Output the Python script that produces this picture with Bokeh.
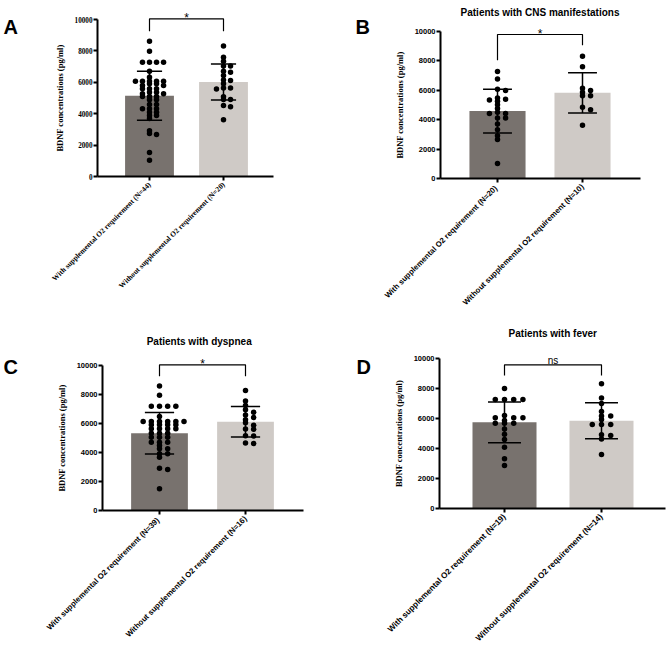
import numpy as np
from bokeh.plotting import figure
from bokeh.models import Range1d, FixedTicker, Label
from bokeh.layouts import row, column
from bokeh.embed import file_html
from bokeh.resources import INLINE

# ---------------- data ----------------
panel_letters = ["A", "B", "C", "D"]
panel_titles = ["", "Patients with CNS manifestations", "Patients with dyspnea", "Patients with fever"]
y_axis_label = "BDNF concentrations (pg/ml)"
y_ticks = [0, 2000, 4000, 6000, 8000, 10000]

labels_A = ["With supplemental O2 requirement (N=44)", "Without supplemental O2 requirement (N=20)"]
labels_B = ["With supplemental O2 requirement  (N=20)", "Without supplemental O2 requirement (N=10)"]
labels_C = ["With supplemental O2 requirement  (N=39)", "Without supplemental O2 requirement (N=16)"]
labels_D = ["With supplemental O2 requirement (N=19)", "Without supplemental O2 requirement (N=14)"]

mean_A = [5140, 6020]
sd_A = [1565, 1150]
mean_B = [4575, 5815]
sd_B = [1485, 1360]
mean_C = [5335, 6120]
sd_C = [1430, 1050]
mean_D = [5745, 5844]
sd_D = [1355, 1200]

with_A = [8620, 7980, 7280, 7280, 7280, 7280, 6700, 6325, 6070, 6070, 6070, 6070, 6070,
          5900, 5900, 5800, 5800, 5585, 5585, 5585, 5370, 5370, 5268, 5268, 5095, 5095,
          5095, 4885, 4885, 4586, 4586, 4310, 4310, 4310, 4096, 4096, 3885, 3885, 3700,
          2920, 2740, 2680, 1530, 1040]
without_A = [8320, 7600, 7340, 7040, 7040, 6700, 6640, 6430, 6150, 6110, 5900, 5580, 5640,
             5640, 5080, 4900, 4900, 4450, 4530, 3620]
with_B = [7260, 6760, 6060, 5970, 5240, 5380, 5330, 5470, 5010, 4750, 4420, 4420, 4490,
          4100, 4100, 3700, 3310, 2900, 2650, 1020]
without_B = [8300, 7580, 5970, 5850, 6120, 5620, 5620, 4830, 4670, 3610]
with_C = [8590, 7950, 7190, 7190, 7190, 7190, 6480, 6140, 6140, 6140, 6140, 6140, 6140,
          5910, 5910, 5910, 5910, 5634, 5634, 5634, 5634, 5331, 5331, 5331, 5055, 5055,
          5055, 4710, 4710, 4710, 4483, 4253, 4253, 3908, 3908, 3676, 2920, 2830, 1500]
without_C = [8270, 7560, 7240, 6950, 6780, 6580, 6420, 6260, 6050, 5880, 5620, 5600, 5150,
             5140, 4650, 4620]
with_D = [8000, 7267, 7267, 7267, 7267, 6200, 6044, 6044, 6044, 5867, 5689, 5689, 5689,
          5300, 4950, 4600, 4089, 3311, 2866]
without_D = [8310, 7360, 7000, 6160, 6470, 6160, 5930, 5600, 5600, 5600, 4870, 4910, 4640, 3600]

significance = ["*", "*", "*", "ns"]
bracket_top = [10045, 9775, 10048, 9580]
bracket_left_end = [9255, 8027, 9262, 8867]
bracket_right_end = [9255, 9048, 9262, 8867]

# ---------------- layout / styling (pixel placement of each panel) ----------------
BAR_COLORS = ["#78726e", "#cfcac6"]
SERIF = "Liberation Serif"
SANS = "Liberation Sans"

panels = [
    dict(title=panel_titles[0], labels=labels_A, mean=mean_A, sd=sd_A, groups=[with_A, without_A],
         fig=(0, 0, 334, 324), cats=(149, 223), zero=176, tenk=19, axis=(97, 273),
         letter=(3, 26), title_pos=None,
         tick_font=SERIF, tick_size="7.2px", xl_font=SERIF, xl_size="7.4px"),
    dict(title=panel_titles[1], labels=labels_B, mean=mean_B, sd=sd_B, groups=[with_B, without_B],
         fig=(334, 0, 335, 324), cats=(497, 582), zero=178, tenk=30.7, axis=(440, 640),
         letter=(355, 26), title_pos=(539.5, 11.5),
         tick_font=SANS, tick_size="7.5px", xl_font=SANS, xl_size="7.8px"),
    dict(title=panel_titles[2], labels=labels_C, mean=mean_C, sd=sd_C, groups=[with_C, without_C],
         fig=(0, 324, 334, 325), cats=(159, 245), zero=510, tenk=365, axis=(102, 303),
         letter=(3, 366.7), title_pos=(198.7, 340.5),
         tick_font=SANS, tick_size="7.5px", xl_font=SANS, xl_size="7.8px"),
    dict(title=panel_titles[3], labels=labels_D, mean=mean_D, sd=sd_D, groups=[with_D, without_D],
         fig=(334, 324, 335, 325), cats=(504, 601), zero=508, tenk=358, axis=(439, 665),
         letter=(356, 366.7), title_pos=(552.3, 333),
         tick_font=SANS, tick_size="7.5px", xl_font=SANS, xl_size="8.2px"),
]

BAR_W = 0.66
CAP_HALF = 0.17
STEP = 0.095
DOT = 5.5
MIN_SEP_PX = 2.5
SIG_GAP_PX = [0.5, 0.5, 0.5, 4.3]


def swarm_offsets(vals, px_per_unit, min_sep):
    order = np.argsort(-np.asarray(vals, dtype=float), kind="stable")
    placed = {}
    offs = np.zeros(len(vals))
    k_seq = [0]
    for m in range(1, 20):
        k_seq += [m, -m]
    for i in order:
        v = vals[i]
        for k in k_seq:
            if all(abs(v - u) * px_per_unit >= min_sep for u in placed.get(k, [])):
                placed.setdefault(k, []).append(v)
                offs[i] = k
                break
    return offs


def make_panel(i, cfg):
    fx, fy, fw, fh = cfg["fig"]
    c0, c1 = cfg["cats"]
    ux = float(c1 - c0)                       # px per category unit
    uy = (cfg["zero"] - cfg["tenk"]) / 10000  # px per data unit

    def dx(px):
        return (px - c0) / ux

    def dy(py):
        return (cfg["zero"] - py) / uy

    p = figure(width=fw, height=fh, output_backend="svg", toolbar_location=None, title=None,
               x_range=Range1d(dx(fx), dx(fx + fw)), y_range=Range1d(dy(fy + fh), dy(fy)),
               min_border=0, min_border_left=0, min_border_right=0,
               min_border_top=0, min_border_bottom=0)
    p.outline_line_color = None
    p.xgrid.visible = False
    p.ygrid.visible = False
    p.background_fill_color = "white"
    p.border_fill_color = "white"

    xs = [0, 1]
    p.vbar(x=xs, width=BAR_W, top=cfg["mean"], bottom=0, fill_color=BAR_COLORS,
           line_color=None)

    for gi, vals in enumerate(cfg["groups"]):
        offs = swarm_offsets(vals, uy, MIN_SEP_PX)
        p.scatter(x=gi + offs * STEP, y=vals, size=DOT, fill_color="black",
                  line_color=None, marker="circle")

    lo = [m - s for m, s in zip(cfg["mean"], cfg["sd"])]
    hi = [m + s for m, s in zip(cfg["mean"], cfg["sd"])]
    p.segment(x0=xs, y0=lo, x1=xs, y1=hi, line_color="black", line_width=1.5)
    p.segment(x0=[x - CAP_HALF for x in xs], y0=hi, x1=[x + CAP_HALF for x in xs], y1=hi,
              line_color="black", line_width=1.5)
    p.segment(x0=[x - CAP_HALF for x in xs], y0=lo, x1=[x + CAP_HALF for x in xs], y1=lo,
              line_color="black", line_width=1.5)

    # significance bracket
    p.line(x=[0, 0, 1, 1],
           y=[bracket_left_end[i], bracket_top[i], bracket_top[i], bracket_right_end[i]],
           line_color="black", line_width=1.2)
    is_star = significance[i] == "*"
    p.add_layout(Label(x=0.5, y=bracket_top[i] + SIG_GAP_PX[i] / uy, text=significance[i],
                       text_align="center", text_baseline="alphabetic",
                       text_font=SANS, text_font_size="12px" if is_star else "10px",
                       text_color="black"))

    # axes, drawn at fixed data locations
    ax_l, ax_r = dx(cfg["axis"][0]), dx(cfg["axis"][1])
    yax = p.yaxis[0]
    yax.fixed_location = ax_l
    yax.ticker = FixedTicker(ticks=y_ticks)
    yax.bounds = (0, 10000)
    yax.axis_label = y_axis_label
    yax.axis_label_text_font = SERIF
    yax.axis_label_text_font_style = "bold"
    yax.axis_label_text_font_size = "8.5px"
    yax.axis_label_standoff = 7
    yax.major_label_text_font = cfg["tick_font"]
    yax.major_label_text_font_style = "bold"
    yax.major_label_text_font_size = cfg["tick_size"]
    yax.major_label_standoff = 1

    xax = p.xaxis[0]
    xax.fixed_location = 0
    xax.bounds = (ax_l, ax_r)
    xax.ticker = FixedTicker(ticks=[0, 1])
    xax.major_label_overrides = {0: cfg["labels"][0], 1: cfg["labels"][1]}
    xax.major_label_orientation = np.pi / 4
    xax.major_label_text_font = cfg["xl_font"]
    xax.major_label_text_font_style = "bold"
    xax.major_label_text_font_size = cfg["xl_size"]
    xax.major_label_standoff = 3

    for ax in (xax, yax):
        ax.axis_line_width = 2
        ax.axis_line_color = "black"
        ax.major_tick_line_width = 2
        ax.major_tick_line_color = "black"
        ax.major_tick_out = 4
        ax.major_tick_in = 0
        ax.minor_tick_out = 0
        ax.minor_tick_in = 0
        ax.major_label_text_color = "black"
        ax.axis_label_text_color = "black"

    # panel letter and panel title
    lx, ly = cfg["letter"]
    p.add_layout(Label(x=dx(lx), y=dy(ly), text=panel_letters[i],
                       text_font=SANS, text_font_style="bold", text_font_size="20px",
                       text_baseline="alphabetic", text_align="left", text_color="black"))
    if cfg["title_pos"] is not None:
        tx, ty = cfg["title_pos"]
        p.add_layout(Label(x=dx(tx), y=dy(ty), text=cfg["title"],
                           text_font=SANS, text_font_style="bold", text_font_size="10px",
                           text_baseline="alphabetic", text_align="center", text_color="black"))
    return p


figs = [make_panel(i, c) for i, c in enumerate(panels)]
layout = column(row(figs[0], figs[1]), row(figs[2], figs[3]))

open("out.html", "w").write(file_html(layout, INLINE))
